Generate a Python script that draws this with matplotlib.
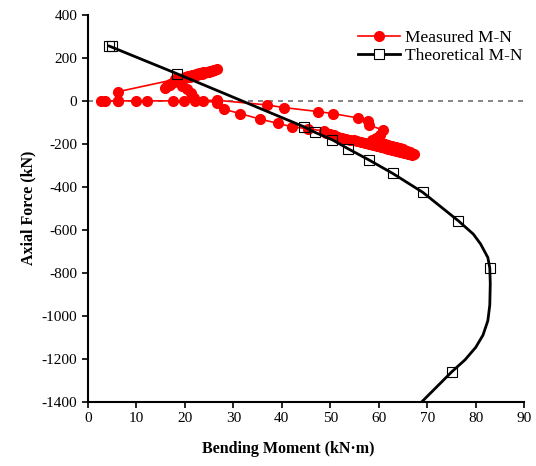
import matplotlib
matplotlib.use('Agg')
import matplotlib.pyplot as plt

plt.rcParams['font.family'] = ['Liberation Serif', 'DejaVu Serif']
plt.rcParams['axes.unicode_minus'] = False

# measured M-N path (kN·m, kN), in drawing order
meas_m = [2.8, 3.5, 6.3, 9.9, 12.1, 17.6, 19.8, 22.0, 26.6, 36.9, 40.4, 47.5, 50.5,
          55.8, 57.7, 57.9, 60.9, 60.3, 59.5, 58.5, 59.0, 59.8, 60.5, 61.3, 62.0,
          62.8, 63.5, 64.3, 65.0, 65.8, 66.5, 67.2,
          66.8, 66.0, 65.2, 64.4, 63.6, 62.8, 62.0, 61.2, 60.4, 59.6, 58.8, 58.0,
          57.2, 56.4, 55.6, 54.8, 54.0, 53.2, 52.4, 51.6, 50.8, 50.0, 49.2,
          48.6, 45.5, 42.1, 39.3, 35.5, 31.4, 28.0, 26.6, 23.8, 21.8, 21.2, 20.4,
          19.5, 18.8, 19.5, 20.0, 20.5, 21.0, 21.5, 22.0, 22.5, 23.0, 23.5, 24.0,
          24.5, 25.0, 25.5, 26.0, 26.6, 26.0, 25.2, 24.5, 23.8, 23.0, 22.2, 21.5,
          20.7, 20.0, 19.2, 18.5, 17.7, 17.0, 16.3, 16.0, 17.0, 18.0, 6.3, 6.3]
meas_n = [0, 0, 0, 0, 0, 0, 0, 0, 3, -19, -31, -50, -59,
          -80, -96, -112, -136, -160, -172, -180, -186, -190, -195, -200, -205,
          -210, -215, -220, -226, -232, -238, -245,
          -250, -247, -243, -239, -235, -230, -225, -220, -215, -210, -205, -200,
          -196, -192, -188, -184, -180, -176, -171, -166, -161, -156, -150,
          -140, -130, -121, -105, -85, -59, -39, -8, 0, 15, 35, 55,
          70, 90, 104, 107, 110, 113, 116, 119, 121, 124, 127, 130,
          133, 136, 139, 143, 147, 144, 140, 136, 132, 128, 124, 120,
          115, 110, 104, 98, 90, 80, 70, 62, 75, 100, 43, 0]

# theoretical M-N curve and its marked points
theo_m = [4.4, 18.3, 44.5, 46.9, 50.4, 53.6, 57.9, 62.9, 69.1, 76.4, 79.5, 81.0, 82.5,
          82.9, 83.0, 82.9, 82.5, 81.5, 80.0, 77.8, 75.1, 72.0, 68.9, 68.0]
theo_n = [255, 127, -120, -147, -181, -222, -274, -338, -426, -558, -620, -666, -729,
          -778, -850, -950, -1023, -1090, -1147, -1205, -1260, -1330, -1400, -1420]
mark_m = [4.4, 4.9, 18.3, 44.5, 46.9, 50.4, 53.6, 57.9, 62.9, 69.1, 76.4, 82.9, 75.1]
mark_n = [255, 255, 127, -120, -147, -181, -222, -274, -338, -426, -558, -778, -1260]

fig = plt.figure(figsize=(5.36, 4.66), dpi=100)
ax = fig.add_axes([0.164, 0.138, 0.814, 0.830])

ax.axhline(0, color='#707070', linestyle=(0, (3, 3)), linewidth=1.2, zorder=1)
ax.plot(meas_m, meas_n, color='red', linewidth=1.2, marker='o', markersize=7,
        markeredgecolor='red', zorder=2, label='Measured M-N')
ax.plot(theo_m, theo_n, color='black', linewidth=2.0, zorder=3)
ax.plot(mark_m, mark_n, linestyle='none', marker='s', markersize=7,
        markerfacecolor='none', markeredgecolor='black', markeredgewidth=0.8, zorder=4)
# legend proxy for the theoretical curve
ax.plot([], [], color='black', linewidth=2.0, marker='s', markersize=7,
        markerfacecolor='white', markeredgecolor='black', markeredgewidth=0.8,
        label='Theoretical M-N')

ax.set_xlim(0, 90)
ax.set_ylim(-1400, 400)
ax.set_xticks(range(0, 91, 10))
ax.set_yticks(range(-1400, 401, 200))
ax.spines['top'].set_visible(False)
ax.spines['right'].set_visible(False)
ax.spines['left'].set_linewidth(1.5)
ax.spines['bottom'].set_linewidth(1.5)
ax.tick_params(direction='out', length=4, width=1.2, labelsize=11)

ax.set_xlabel('Bending Moment (kN·m)', fontsize=11.5, fontweight='bold')
ax.xaxis.set_label_coords(0.459, -0.102)
ax.set_ylabel('Axial Force (kN)', fontsize=11.5, fontweight='bold', labelpad=4)

ax.legend(loc='upper right', bbox_to_anchor=(1.02, 0.988), frameon=False, fontsize=12.5,
          handlelength=2.4, handletextpad=0.3, borderaxespad=0.2, labelspacing=0.1)

fig.savefig('out.png', dpi=100)
